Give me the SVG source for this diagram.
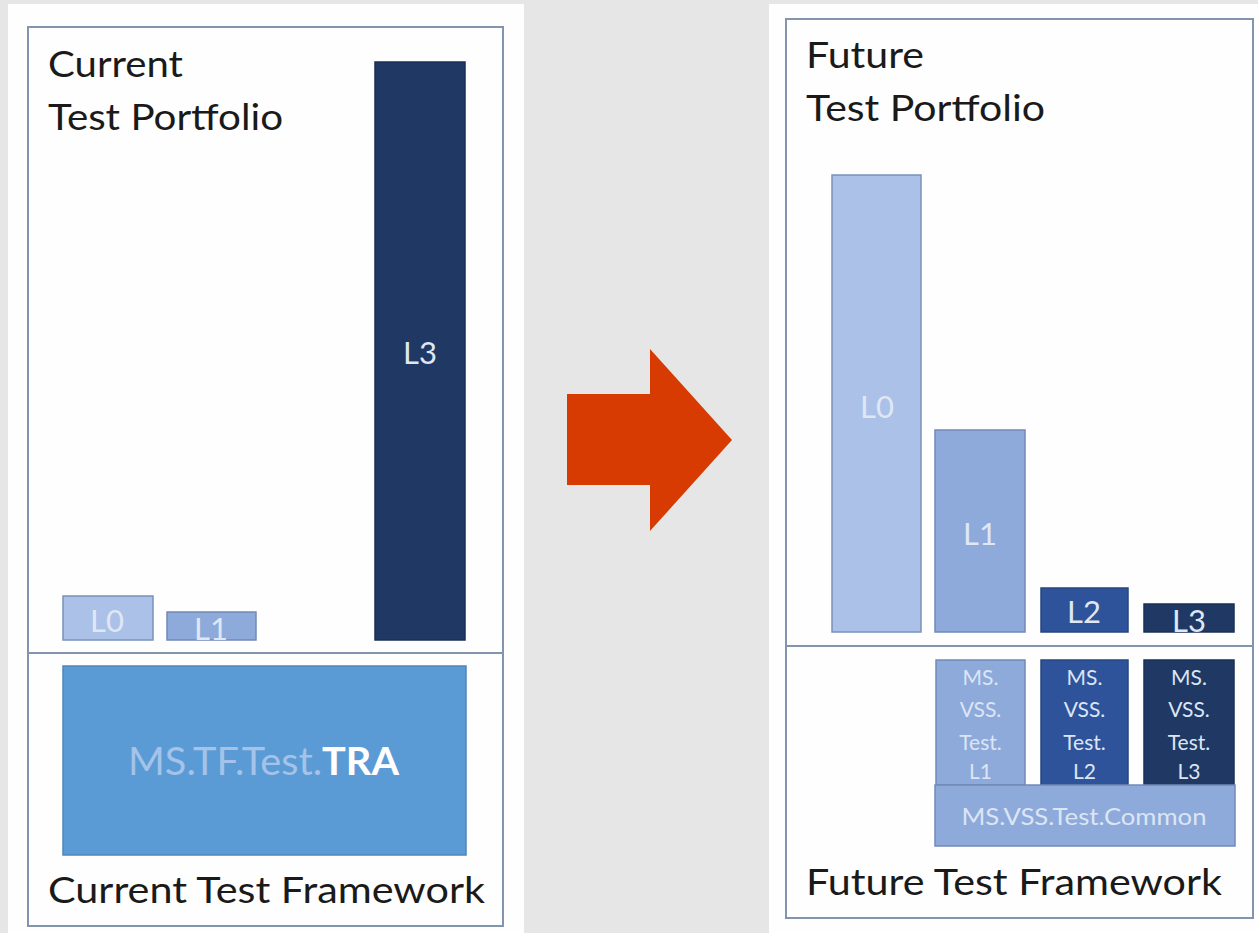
<svg xmlns="http://www.w3.org/2000/svg" width="1258" height="933" viewBox="0 0 1258 933">
<style>
text{font-family:Lato,"Liberation Sans",sans-serif}
.panel{fill:#fefefe}
.frame{fill:none;stroke:#8394ad;stroke-width:2}
.div{stroke:#8394ad;stroke-width:2}
.title{font-size:37px;fill:#1a1a1a}
.lab{font-size:31px;fill:#dfe7f5;text-anchor:middle}
.small{font-size:21px;fill:#dce5f4;text-anchor:middle}
.c0{fill:#abc1e7;stroke:#7a91bb;stroke-width:1.5}
.c1{fill:#8eaadb;stroke:#7389b6;stroke-width:1.5}
.c2{fill:#2e539b;stroke:#27467f;stroke-width:1.5}
.c3{fill:#1f3864;stroke:#1a2f55;stroke-width:1.5}
.tra{fill:#5b9bd5;stroke:#4f86b8;stroke-width:1.5}
</style>
<rect width="1258" height="933" fill="#e6e6e6"/>
<rect class="panel" x="8" y="4" width="516" height="929"/>
<rect class="panel" x="769" y="4" width="489" height="929"/>

<g id="current">
<rect class="frame" x="28" y="27" width="475" height="899"/>
<line class="div" x1="28" y1="653" x2="503" y2="653"/>
<text class="title" x="48" y="77" textLength="135" lengthAdjust="spacingAndGlyphs">Current</text>
<text class="title" x="48" y="130" textLength="235" lengthAdjust="spacingAndGlyphs">Test Portfolio</text>
<text class="title" x="48" y="903" textLength="437" lengthAdjust="spacingAndGlyphs">Current Test Framework</text>
</g>
<g id="cur-L0"><rect class="c0" x="63" y="596" width="90" height="44"/><text class="lab" x="107" y="632">L0</text></g>
<g id="cur-L1"><rect class="c1" x="167" y="612" width="89" height="28"/><text class="lab" x="211" y="640">L1</text></g>
<g id="cur-L3"><rect class="c3" x="375" y="62" width="90" height="578"/><text class="lab" x="420" y="364">L3</text></g>
<g id="cur-TRA"><rect class="tra" x="63" y="666" width="403" height="189"/>
<text x="128" y="775" font-size="38" textLength="271" lengthAdjust="spacingAndGlyphs"><tspan fill="#a5c3e8">MS.TF.Test.</tspan><tspan fill="#ffffff" font-weight="bold">TRA</tspan></text></g>

<g id="future">
<rect class="frame" x="786" y="19" width="467" height="899"/>
<line class="div" x1="786" y1="646" x2="1253" y2="646"/>
<text class="title" x="806" y="68" textLength="118" lengthAdjust="spacingAndGlyphs">Future</text>
<text class="title" x="806" y="121" textLength="239" lengthAdjust="spacingAndGlyphs">Test Portfolio</text>
<text class="title" x="806" y="895" textLength="416" lengthAdjust="spacingAndGlyphs">Future Test Framework</text>
</g>
<g id="fut-L0"><rect class="c0" x="832" y="175" width="89" height="457"/><text class="lab" x="877" y="418">L0</text></g>
<g id="fut-L1"><rect class="c1" x="935" y="430" width="90" height="202"/><text class="lab" x="980" y="545">L1</text></g>
<g id="fut-L2"><rect class="c2" x="1041" y="588" width="87" height="44"/><text class="lab" x="1084" y="623">L2</text></g>
<g id="fut-L3"><rect class="c3" x="1144" y="604" width="90" height="28"/><text class="lab" x="1189" y="632">L3</text></g>

<g id="fw-L1"><rect class="c1" x="936" y="660" width="89" height="125"/>
<text class="small" x="980.5" y="685">MS.</text><text class="small" x="980.5" y="717">VSS.</text><text class="small" x="980.5" y="750">Test.</text><text class="small" x="980.5" y="779">L1</text></g>
<g id="fw-L2"><rect class="c2" x="1041" y="660" width="87" height="125"/>
<text class="small" x="1084.5" y="685">MS.</text><text class="small" x="1084.5" y="717">VSS.</text><text class="small" x="1084.5" y="750">Test.</text><text class="small" x="1084.5" y="779">L2</text></g>
<g id="fw-L3"><rect class="c3" x="1144" y="660" width="90" height="125"/>
<text class="small" x="1189" y="685">MS.</text><text class="small" x="1189" y="717">VSS.</text><text class="small" x="1189" y="750">Test.</text><text class="small" x="1189" y="779">L3</text></g>
<g id="fw-common"><rect class="c1" x="935" y="785" width="300" height="61"/>
<text class="small" x="1084" y="825" font-size="24" textLength="245" lengthAdjust="spacingAndGlyphs" style="font-size:24px">MS.VSS.Test.Common</text></g>

<g id="connectors">
<polygon points="567,394 650,394 650,349 732,440 650,531 650,485 567,485" fill="#d83b01"/>
</g>
</svg>
